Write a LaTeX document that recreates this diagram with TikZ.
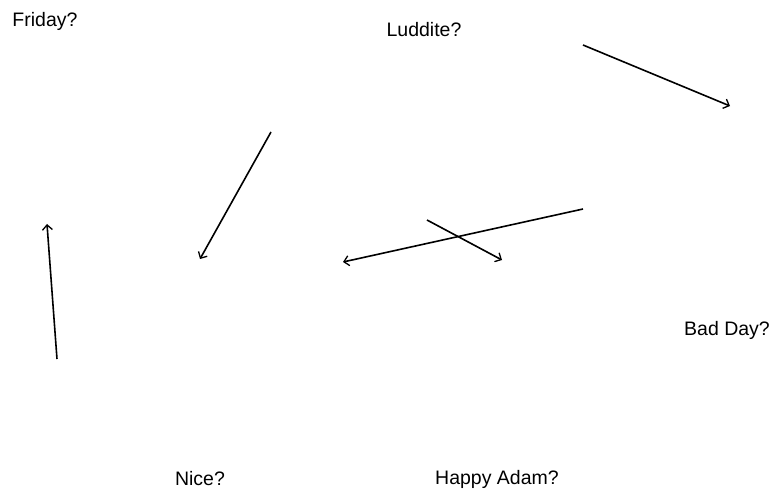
\documentclass[tikz,border=0pt]{standalone}
\usepackage{fontspec}
\setmainfont{Liberation Sans}
\usetikzlibrary{arrows.meta}
\begin{document}
\begin{tikzpicture}[x=1pt,y=-1pt,
  lbl/.style={inner sep=0pt,font=\fontsize{19.5}{22}\selectfont},
  arr/.style={line width=1.6pt,-{Straight Barb[length=5pt,width=10pt,line width=1.3pt]}}]
\useasboundingbox (0,0) rectangle (776,494);
\node[lbl] (friday) at (45,21) {Friday?};
\node[lbl] (luddite) at (424,30) {Luddite?};
\node[lbl] (badday) at (727,330) {Bad Day?};
\node[lbl] (nice) at (200,479) {Nice?};
\node[lbl] (happy) at (497,479) {Happy Adam?};
\coordinate (a1) at (583,45);  \coordinate (b1) at (730,106);
\coordinate (a2) at (271,132); \coordinate (b2) at (200,259);
\coordinate (a3) at (583,209); \coordinate (b3) at (343,262);
\coordinate (a4) at (427,220); \coordinate (b4) at (502,260);
\coordinate (a5) at (57,359);  \coordinate (b5) at (47,224);
\draw[arr] (a1) -- (b1);
\draw[arr] (a2) -- (b2);
\draw[arr] (a3) -- (b3);
\draw[arr] (a4) -- (b4);
\draw[arr] (a5) -- (b5);
\end{tikzpicture}
\end{document}
